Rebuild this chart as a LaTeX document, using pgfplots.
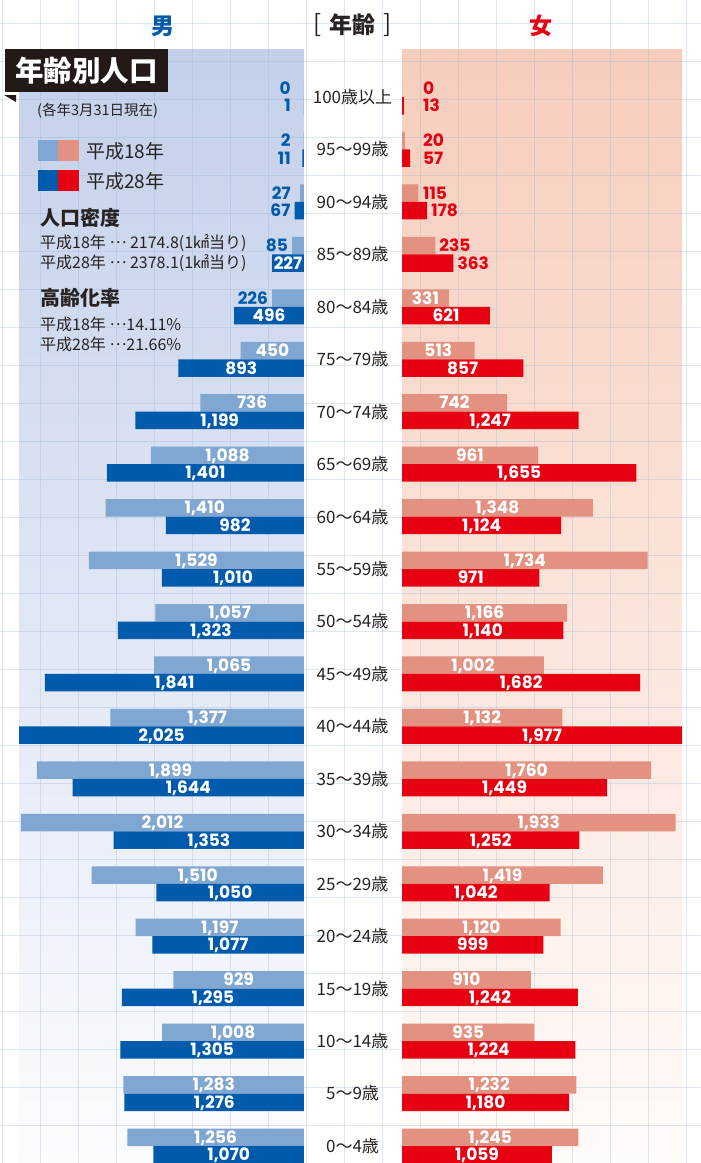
\documentclass[border=0pt]{standalone}
\usepackage{fontspec}
\setmainfont{Noto Sans CJK JP}
\newfontfamily\numfont{Poppins}
\usepackage{pgfplots}
\pgfplotsset{compat=1.18}
\usepackage{pgfplotstable}

\definecolor{mlight}{RGB}{127,167,209}
\definecolor{mdark}{RGB}{0,91,172}
\definecolor{flight}{RGB}{227,146,129}
\definecolor{fdark}{RGB}{230,0,18}
\definecolor{txt}{RGB}{40,34,34}
\definecolor{gridc}{RGB}{150,180,215}
\definecolor{mtop}{RGB}{196,208,234}
\definecolor{mbot}{RGB}{251,252,254}
\definecolor{ftop}{RGB}{246,205,188}
\definecolor{fbot}{RGB}{255,251,249}
\definecolor{titlebg}{RGB}{35,25,22}

\newcommand\nf{\numfont\bfseries\fontsize{17}{17}\selectfont}
\newcommand\agefont{\fontsize{17}{17}\selectfont}
\newcommand\mdots{\raisebox{0.3em}{…}}

% j = age group (0 = 0-4, 20 = 100+); m = male, f = female; 18 = H18, 28 = H28
\pgfplotstableread{
j m18 m28 f18 f28
0 1256 1070 1245 1059
1 1283 1276 1232 1180
2 1008 1305 935 1224
3 929 1295 910 1242
4 1197 1077 1120 999
5 1510 1050 1419 1042
6 2012 1353 1933 1252
7 1899 1644 1760 1449
8 1377 2025 1132 1977
9 1065 1841 1002 1682
10 1057 1323 1166 1140
11 1529 1010 1734 971
12 1410 982 1348 1124
13 1088 1401 961 1655
14 736 1199 742 1247
15 450 893 513 857
16 226 496 331 621
17 85 227 235 363
18 27 67 115 178
19 2 11 20 57
20 0 1 0 13
}\pop

\pgfkeys{/pgf/number format/.cd, assume math mode=true, 1000 sep={,}, fixed, precision=0}

\pgfplotsset{
  lbl/.style={only marks, mark=*, mark size=0pt, mark options={draw=none,fill=none},
    point meta=explicit, nodes near coords={\pgfmathprintnumber{\pgfplotspointmeta}},
    every node near coord/.append style={font=\nf, text depth=0pt, text height=12pt, inner sep=0pt}},
  inlbl/.style={lbl, every node near coord/.append style={anchor=center, text=white}},
}

\begin{document}
\begin{tikzpicture}
\useasboundingbox (0,0) rectangle (701pt,-1163pt);
\fill[white] (0,0) rectangle (701pt,-1163pt);
\shade[top color=mtop, bottom color=mbot] (19pt,-49pt) rectangle (304pt,-1163pt);
\shade[top color=ftop, bottom color=fbot] (402pt,-49pt) rectangle (682pt,-1163pt);
\foreach \x in {2,40,...,700} \draw[gridc, opacity=0.3, line width=1pt] (\x pt,0) -- (\x pt,-1163pt);
\foreach \y in {23,61,...,1163} \draw[gridc, opacity=0.3, line width=1pt] (0,-\y pt) -- (701pt,-\y pt);

% male
\begin{axis}[
  hide axis, scale only axis, clip=false,
  x=0.1407pt, y=52.45pt, x dir=reverse,
  xmin=0, xmax=2025.6, ymin=-0.335, ymax=20.5,
  anchor=south east, at={(304pt,-1163.57pt)},
]
\addplot[xbar, bar width=17.5pt, bar shift=8.75pt, fill=mlight, draw=none] table[x=m18, y=j]{\pop};
\addplot[xbar, bar width=17.5pt, bar shift=-8.75pt, fill=mdark, draw=none] table[x=m28, y=j]{\pop};
\addplot[inlbl, restrict y to domain=-1:15.5] table[x expr=\thisrow{m18}/2, y expr=\thisrow{j}+0.1668, meta=m18]{\pop};
\addplot[inlbl, restrict y to domain=-1:17.5] table[x expr=\thisrow{m28}/2, y expr=\thisrow{j}-0.1668, meta=m28]{\pop};
\addplot[lbl, restrict y to domain=15.5:21, every node near coord/.append style={anchor=east, xshift=-4pt, text=mdark}]
  table[x expr={max(\thisrow{m18},65)}, y expr=\thisrow{j}+0.1668, meta=m18]{\pop};
\addplot[lbl, restrict y to domain=17.5:21, every node near coord/.append style={anchor=east, xshift=-4pt, text=mdark}]
  table[x expr={max(\thisrow{m28},65)}, y expr=\thisrow{j}-0.1668, meta=m28]{\pop};
\end{axis}

% female
\begin{axis}[
  scale only axis, clip=false,
  x=0.1416pt, y=52.45pt,
  xmin=0, xmax=1977, ymin=-0.335, ymax=20.5,
  anchor=south west, at={(402pt,-1163.57pt)},
  axis line style={draw=none}, tick style={draw=none},
  xtick=\empty, ytick={0,...,20},
  yticklabels={0～4歳,5～9歳,10～14歳,15～19歳,20～24歳,25～29歳,30～34歳,35～39歳,40～44歳,45～49歳,50～54歳,55～59歳,60～64歳,65～69歳,70～74歳,75～79歳,80～84歳,85～89歳,90～94歳,95～99歳,100歳以上},
  yticklabel style={anchor=center, xshift=-49.5pt, font=\agefont, text=txt},
]
\addplot[xbar, bar width=17.5pt, bar shift=8.75pt, fill=flight, draw=none] table[x=f18, y=j]{\pop};
\addplot[xbar, bar width=17.5pt, bar shift=-8.75pt, fill=fdark, draw=none] table[x=f28, y=j]{\pop};
\addplot[inlbl, restrict y to domain=-1:16.5] table[x expr=\thisrow{f18}/2, y expr=\thisrow{j}+0.1668, meta=f18]{\pop};
\addplot[inlbl, restrict y to domain=-1:16.5] table[x expr=\thisrow{f28}/2, y expr=\thisrow{j}-0.1668, meta=f28]{\pop};
\addplot[lbl, restrict y to domain=16.5:21, every node near coord/.append style={anchor=west, xshift=4pt, text=fdark}]
  table[x expr={max(\thisrow{f18},120)}, y expr=\thisrow{j}+0.1668, meta=f18]{\pop};
\addplot[lbl, restrict y to domain=16.5:21, every node near coord/.append style={anchor=west, xshift=4pt, text=fdark}]
  table[x expr={max(\thisrow{f28},120)}, y expr=\thisrow{j}-0.1668, meta=f28]{\pop};
\end{axis}

% headers
\node[font=\bfseries\fontsize{23}{23}\selectfont, text=mdark] at (163pt,-26pt) {男};
\node[font=\bfseries\fontsize{23}{23}\selectfont, text=txt] at (352pt,-25pt) {年齢};
\node[font=\fontsize{24}{24}\selectfont, text=txt] at (317.5pt,-25pt) {[};
\node[font=\fontsize{24}{24}\selectfont, text=txt] at (387.5pt,-25pt) {]};
\node[font=\bfseries\fontsize{23}{23}\selectfont, text=fdark] at (541pt,-26pt) {女};

% title box and notes
\fill[titlebg] (5pt,-49pt) rectangle (168pt,-92pt);
\fill[titlebg] (4pt,-95pt) -- (16pt,-95pt) -- (16pt,-102pt) -- cycle;
\node[font=\bfseries\fontsize{28.5}{28.5}\selectfont, text=white] at (86.5pt,-71pt) {年齢別人口};
\node[anchor=west, inner sep=0pt, font=\fontsize{14.5}{14.5}\selectfont, text=txt] at (37pt,-111pt) {(各年3月31日現在)};
\fill[mlight] (38pt,-140pt) rectangle (58pt,-161pt);
\fill[flight] (58pt,-140pt) rectangle (79pt,-161pt);
\fill[mdark] (38pt,-170pt) rectangle (58pt,-191pt);
\fill[fdark] (58pt,-170pt) rectangle (79pt,-191pt);
\node[anchor=west, inner sep=0pt, font=\fontsize{19}{19}\selectfont, text=txt] at (86pt,-151pt) {平成18年};
\node[anchor=west, inner sep=0pt, font=\fontsize{19}{19}\selectfont, text=txt] at (86pt,-181pt) {平成28年};
\node[anchor=west, inner sep=0pt, font=\bfseries\fontsize{20}{20}\selectfont, text=txt] at (40pt,-218pt) {人口密度};
\node[anchor=west, inner sep=0pt, font=\fontsize{16}{16}\selectfont, text=txt] at (40pt,-243pt) {平成18年 \mdots{} 2174.8(1㎢当り)};
\node[anchor=west, inner sep=0pt, font=\fontsize{16}{16}\selectfont, text=txt] at (40pt,-263pt) {平成28年 \mdots{} 2378.1(1㎢当り)};
\node[anchor=west, inner sep=0pt, font=\bfseries\fontsize{20}{20}\selectfont, text=txt] at (40pt,-298pt) {高齢化率};
\node[anchor=west, inner sep=0pt, font=\fontsize{16}{16}\selectfont, text=txt] at (40pt,-324pt) {平成18年 \mdots{}14.11\%};
\node[anchor=west, inner sep=0pt, font=\fontsize{16}{16}\selectfont, text=txt] at (40pt,-344pt) {平成28年 \mdots{}21.66\%};
\end{tikzpicture}
\end{document}
